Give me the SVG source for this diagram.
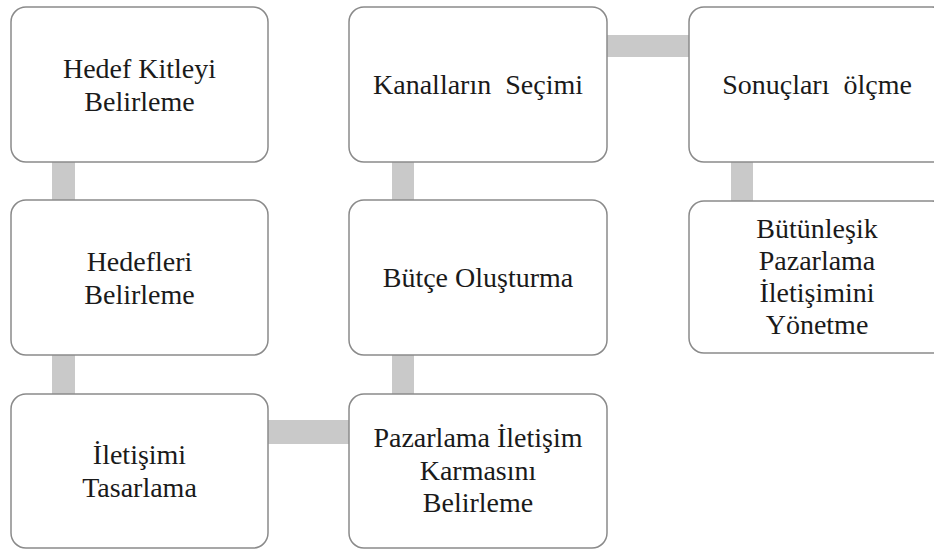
<svg xmlns="http://www.w3.org/2000/svg" width="934" height="549" viewBox="0 0 934 549">
<style>
.box{fill:#ffffff;stroke:#8a8a8a;stroke-width:1.5}
.bar{fill:#c9c9c9}
</style>
<rect width="934" height="549" fill="#ffffff"/>
<g id="connectors">
<rect class="bar" x="52" y="162" width="23" height="38"/>
<rect class="bar" x="52" y="355" width="23" height="39"/>
<rect class="bar" x="268" y="420" width="81" height="24"/>
<rect class="bar" x="392" y="355" width="22" height="39"/>
<rect class="bar" x="392" y="162" width="22" height="38"/>
<rect class="bar" x="607" y="35" width="82" height="22"/>
<rect class="bar" x="731" y="162" width="22" height="39"/>
</g>
<g id="n1"><rect class="box" x="11" y="7" width="257" height="155" rx="15"/><text x="139.5" y="78" font-size="28" font-family="'Liberation Serif', 'Times New Roman', Tinos, 'DejaVu Serif', serif" fill="#1a1a1a" text-anchor="middle">Hedef Kitleyi</text><text x="139.5" y="111" font-size="28" font-family="'Liberation Serif', 'Times New Roman', Tinos, 'DejaVu Serif', serif" fill="#1a1a1a" text-anchor="middle">Belirleme</text></g>
<g id="n2"><rect class="box" x="11" y="200" width="257" height="155" rx="15"/><text x="139.5" y="271" font-size="28" font-family="'Liberation Serif', 'Times New Roman', Tinos, 'DejaVu Serif', serif" fill="#1a1a1a" text-anchor="middle">Hedefleri</text><text x="139.5" y="304" font-size="28" font-family="'Liberation Serif', 'Times New Roman', Tinos, 'DejaVu Serif', serif" fill="#1a1a1a" text-anchor="middle">Belirleme</text></g>
<g id="n3"><rect class="box" x="11" y="394" width="257" height="154" rx="15"/><text x="139.5" y="464" font-size="28" font-family="'Liberation Serif', 'Times New Roman', Tinos, 'DejaVu Serif', serif" fill="#1a1a1a" text-anchor="middle">İletişimi</text><text x="139.5" y="497" font-size="28" font-family="'Liberation Serif', 'Times New Roman', Tinos, 'DejaVu Serif', serif" fill="#1a1a1a" text-anchor="middle">Tasarlama</text></g>
<g id="n4"><rect class="box" x="349" y="394" width="258" height="154" rx="15"/><text x="478" y="447" font-size="28" font-family="'Liberation Serif', 'Times New Roman', Tinos, 'DejaVu Serif', serif" fill="#1a1a1a" text-anchor="middle">Pazarlama İletişim</text><text x="478" y="480" font-size="28" font-family="'Liberation Serif', 'Times New Roman', Tinos, 'DejaVu Serif', serif" fill="#1a1a1a" text-anchor="middle">Karmasını</text><text x="478" y="512" font-size="28" font-family="'Liberation Serif', 'Times New Roman', Tinos, 'DejaVu Serif', serif" fill="#1a1a1a" text-anchor="middle">Belirleme</text></g>
<g id="n5"><rect class="box" x="349" y="200" width="258" height="155" rx="15"/><text x="478" y="287" font-size="28" font-family="'Liberation Serif', 'Times New Roman', Tinos, 'DejaVu Serif', serif" fill="#1a1a1a" text-anchor="middle">Bütçe Oluşturma</text></g>
<g id="n6"><rect class="box" x="349" y="7" width="258" height="155" rx="15"/><text x="478" y="94" font-size="28" font-family="'Liberation Serif', 'Times New Roman', Tinos, 'DejaVu Serif', serif" fill="#1a1a1a" text-anchor="middle" xml:space="preserve">Kanalların  Seçimi</text></g>
<g id="n7"><rect class="box" x="689" y="7" width="258" height="155" rx="15"/><text x="817" y="94" font-size="28" font-family="'Liberation Serif', 'Times New Roman', Tinos, 'DejaVu Serif', serif" fill="#1a1a1a" text-anchor="middle" xml:space="preserve">Sonuçları  ölçme</text></g>
<g id="n8"><rect class="box" x="689" y="201" width="258" height="152" rx="15"/><text x="817" y="238" font-size="28" font-family="'Liberation Serif', 'Times New Roman', Tinos, 'DejaVu Serif', serif" fill="#1a1a1a" text-anchor="middle">Bütünleşik</text><text x="817" y="270" font-size="28" font-family="'Liberation Serif', 'Times New Roman', Tinos, 'DejaVu Serif', serif" fill="#1a1a1a" text-anchor="middle">Pazarlama</text><text x="817" y="302" font-size="28" font-family="'Liberation Serif', 'Times New Roman', Tinos, 'DejaVu Serif', serif" fill="#1a1a1a" text-anchor="middle">İletişimini</text><text x="817" y="334" font-size="28" font-family="'Liberation Serif', 'Times New Roman', Tinos, 'DejaVu Serif', serif" fill="#1a1a1a" text-anchor="middle">Yönetme</text></g>
</svg>
